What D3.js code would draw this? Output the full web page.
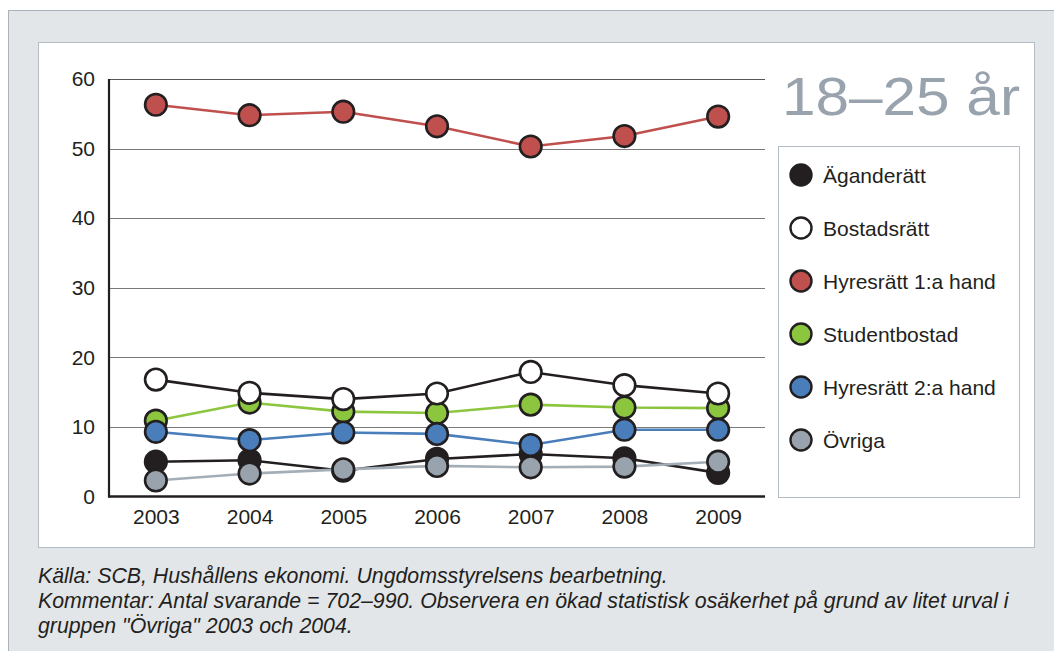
<!DOCTYPE html>
<html lang="sv">
<head>
<meta charset="utf-8">
<script src="https://cdn.jsdelivr.net/npm/d3@7/dist/d3.min.js"></script>
<style>
  html, body { margin: 0; padding: 0; background: #ffffff; }
  svg { display: block; font-family: "Liberation Sans", Arial, sans-serif; }
</style>
</head>
<body>
<svg id="chart" width="1054" height="651"></svg>
<script>
// Boendeform för unga 18–25 år, andel (%) per år
const years = ["2003", "2004", "2005", "2006", "2007", "2008", "2009"];
const yTicks = [0, 10, 20, 30, 40, 50, 60];

const aganderatt   = [5.0, 5.2, 3.7, 5.4, 6.1, 5.5, 3.4];
const bostadsratt  = [16.8, 14.9, 14.0, 14.8, 17.9, 16.0, 14.8];
const hyresratt1   = [56.3, 54.8, 55.3, 53.2, 50.3, 51.8, 54.6];
const studentbostad = [10.9, 13.5, 12.2, 12.0, 13.2, 12.8, 12.7];
const hyresratt2   = [9.3, 8.1, 9.2, 9.0, 7.4, 9.6, 9.6];
const ovriga       = [2.3, 3.3, 3.9, 4.4, 4.2, 4.3, 5.0];

const seriesNames = ["Äganderätt", "Bostadsrätt", "Hyresrätt 1:a hand",
                     "Studentbostad", "Hyresrätt 2:a hand", "Övriga"];
const seriesValues = [aganderatt, bostadsratt, hyresratt1, studentbostad, hyresratt2, ovriga];
const fillColors = ["#231f20", "#ffffff", "#c0504d", "#8cc63f", "#4a7ebb", "#98a3ad"];
const lineColors = ["#231f20", "#231f20", "#c0504d", "#8cc63f", "#4a7ebb", "#a4aeb7"];
// order in which series are painted (later ones sit on top)
const drawOrder = [0, 5, 3, 4, 1, 2];

const title = "18–25 år";
const notes = [
  "Källa: SCB, Hushållens ekonomi. Ungdomsstyrelsens bearbetning.",
  "Kommentar: Antal svarande = 702–990. Observera en ökad statistisk osäkerhet på grund av litet urval i",
  "gruppen \"Övriga\" 2003 och 2004."
];

const FONT = "Liberation Sans, Arial, sans-serif";
const svg = d3.select("#chart");

// outer grey frame and inner white panel
svg.append("rect").attr("x", 8.5).attr("y", 10.5).attr("width", 1060).attr("height", 660)
  .attr("fill", "#e3e6e9").attr("stroke", "#aab3bb").attr("stroke-width", 1);
svg.append("rect").attr("x", 38.5).attr("y", 42.5).attr("width", 996).attr("height", 505)
  .attr("fill", "#ffffff").attr("stroke", "#b4bdc5").attr("stroke-width", 1);

const plot = { left: 109, right: 765, top: 79, bottom: 496.5 };

const x = d3.scalePoint().domain(years).range([plot.left, plot.right]).padding(0.5);
const y = d3.scaleLinear().domain([0, 60]).range([plot.bottom, plot.top]);

// horizontal gridlines
svg.append("g")
  .selectAll("line")
  .data(yTicks.filter(t => t > 0))
  .join("line")
  .attr("x1", plot.left).attr("x2", plot.right)
  .attr("y1", d => Math.round(y(d)) + 0.5).attr("y2", d => Math.round(y(d)) + 0.5)
  .attr("stroke", d => d === 60 ? "#555" : "#7a7a7a").attr("stroke-width", 1);

// y axis labels
const yAxis = d3.axisLeft(y).tickValues(yTicks).tickSize(0).tickPadding(14).tickFormat(d3.format("d"));
svg.append("g")
  .attr("transform", `translate(${plot.left},0)`)
  .call(yAxis)
  .call(g => g.select(".domain").remove())
  .call(g => g.selectAll("text").attr("font-size", 21).attr("fill", "#231f20")
    .attr("font-family", FONT));

// x axis labels
const xAxis = d3.axisBottom(x).tickSize(0).tickPadding(13);
svg.append("g")
  .attr("transform", `translate(0,${plot.bottom})`)
  .call(xAxis)
  .call(g => g.select(".domain").remove())
  .call(g => g.selectAll("text").attr("font-size", 21).attr("fill", "#231f20")
    .attr("font-family", FONT));

// axis lines
svg.append("line").attr("x1", plot.left).attr("x2", plot.left)
  .attr("y1", plot.top).attr("y2", plot.bottom + 1)
  .attr("stroke", "#231f20").attr("stroke-width", 2.2);
svg.append("line").attr("x1", plot.left - 1).attr("x2", plot.right)
  .attr("y1", plot.bottom).attr("y2", plot.bottom)
  .attr("stroke", "#231f20").attr("stroke-width", 2.4);

// series lines and markers
const line = d3.line().x((d, i) => x(years[i])).y(d => y(d));
const seriesG = svg.append("g");
drawOrder.forEach(si => {
  const g = seriesG.append("g");
  g.append("path")
    .attr("d", line(seriesValues[si]))
    .attr("fill", "none")
    .attr("stroke", lineColors[si])
    .attr("stroke-width", 2.6);
  g.selectAll("circle")
    .data(seriesValues[si])
    .join("circle")
    .attr("cx", (d, i) => x(years[i]))
    .attr("cy", d => y(d))
    .attr("r", 10.8)
    .attr("fill", fillColors[si])
    .attr("stroke", "#231f20")
    .attr("stroke-width", 2.6);
});

// title, stretched horizontally to span the legend width
const titleText = svg.append("text")
  .attr("font-size", 53)
  .attr("fill", "#98a3ad")
  .text(title);
const tw = titleText.node().getComputedTextLength();
const sx = 238 / tw;
titleText.attr("transform", `translate(782,115) scale(${sx},1)`);

// legend
svg.append("rect").attr("x", 778.5).attr("y", 146.5).attr("width", 241).attr("height", 351)
  .attr("fill", "#ffffff").attr("stroke", "#b4bdc5").attr("stroke-width", 1);
const legend = svg.append("g")
  .selectAll("g")
  .data(seriesNames)
  .join("g")
  .attr("transform", (d, i) => `translate(801,${175 + i * 53})`);
legend.append("circle")
  .attr("r", 10.5)
  .attr("fill", (d, i) => fillColors[i])
  .attr("stroke", "#231f20")
  .attr("stroke-width", 2.4);
legend.append("text")
  .attr("x", 22).attr("dy", "0.36em")
  .attr("font-size", 21)
  .attr("fill", "#231f20")
  .text(d => d);

// source notes
svg.append("g")
  .selectAll("text")
  .data(notes)
  .join("text")
  .attr("x", 38)
  .attr("y", (d, i) => 583 + i * 25)
  .attr("font-size", 21.3)
  .attr("font-style", "italic")
  .attr("fill", "#231f20")
  .text(d => d);
</script>
</body>
</html>
